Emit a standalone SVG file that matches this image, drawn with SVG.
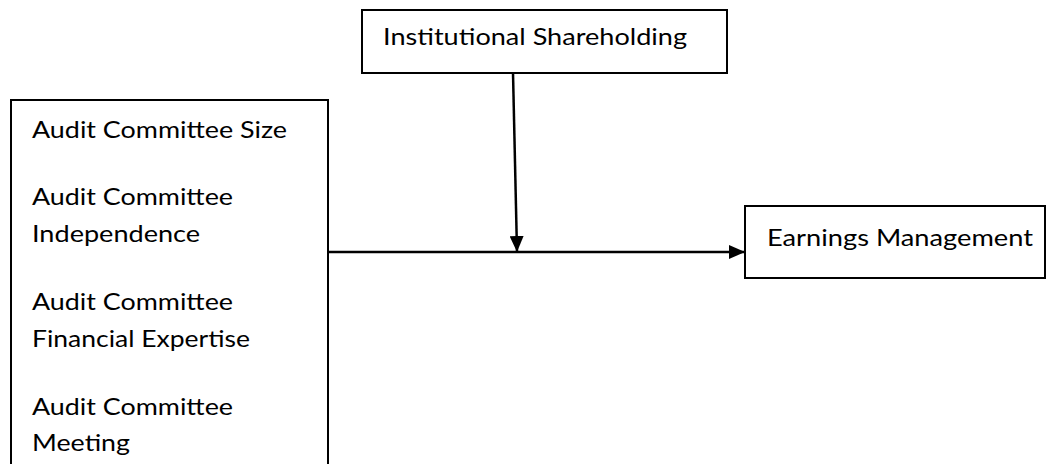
<svg xmlns="http://www.w3.org/2000/svg" width="1046" height="464" viewBox="0 0 1046 464">
<style>
.box{fill:#fff;stroke:#000;stroke-width:2}
.t{font-family:Lato,"Open Sans","Liberation Sans",sans-serif;font-size:24px;fill:#000}
.c{stroke:#000;stroke-width:2.5;fill:none}
</style>
<defs>
<marker id="ah" viewBox="0 0 16 14" refX="16" refY="7" markerWidth="16" markerHeight="14" markerUnits="userSpaceOnUse" orient="auto">
<path d="M0,0 L16,7 L0,14 Z" fill="#000"/>
</marker>
</defs>
<g id="node-institutional">
<rect class="box" x="362" y="10" width="365" height="63"/>
<text class="t" x="383" y="45" textLength="304" lengthAdjust="spacingAndGlyphs">Institutional Shareholding</text>
</g>
<g id="node-audit">
<rect class="box" x="11" y="100" width="317" height="380"/>
<text class="t" x="32" y="138" textLength="255" lengthAdjust="spacingAndGlyphs">Audit Committee Size</text>
<text class="t" x="32" y="205" textLength="201" lengthAdjust="spacingAndGlyphs">Audit Committee</text>
<text class="t" x="32" y="242" textLength="168" lengthAdjust="spacingAndGlyphs">Independence</text>
<text class="t" x="32" y="310" textLength="201" lengthAdjust="spacingAndGlyphs">Audit Committee</text>
<text class="t" x="32" y="347" textLength="218" lengthAdjust="spacingAndGlyphs">Financial Expertise</text>
<text class="t" x="32" y="415" textLength="201" lengthAdjust="spacingAndGlyphs">Audit Committee</text>
<text class="t" x="32" y="451" textLength="98" lengthAdjust="spacingAndGlyphs">Meeting</text>
</g>
<g id="node-earnings">
<rect class="box" x="745" y="206" width="300" height="72"/>
<text class="t" x="767" y="246" textLength="266" lengthAdjust="spacingAndGlyphs">Earnings Management</text>
</g>
<g id="connectors">
<line class="c" x1="328" y1="252" x2="745" y2="252" marker-end="url(#ah)"/>
<line class="c" x1="513" y1="73" x2="517" y2="252" marker-end="url(#ah)"/>
</g>
</svg>
